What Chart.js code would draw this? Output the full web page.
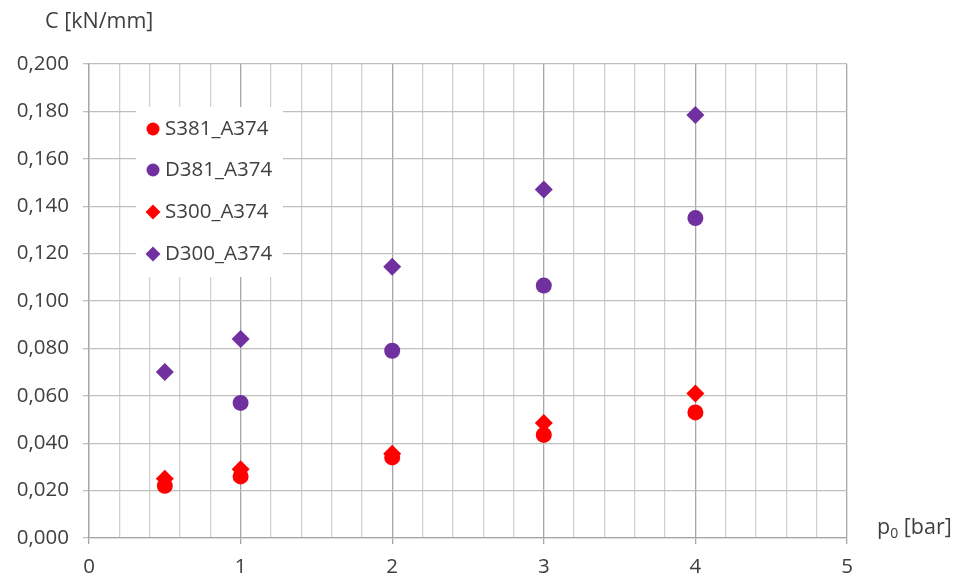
<!DOCTYPE html>
<html>
<head>
<meta charset="utf-8">
<script src="https://cdn.jsdelivr.net/npm/chart.js@4/dist/chart.umd.min.js"></script>
<style>
  html,body{margin:0;padding:0;background:#fff;}
  #wrap{position:relative;width:955px;height:578px;}
</style>
</head>
<body>
<div id="wrap"><canvas id="c" width="955" height="578"></canvas></div>
<script>
// ---- data ----
const seriesLabels = ['S381_A374', 'D381_A374', 'S300_A374', 'D300_A374'];
const x381 = [0.5, 1, 2, 3, 4];
const S381 = [0.022, 0.026, 0.034, 0.0435, 0.053];
const xD381 = [1, 2, 3, 4];
const D381 = [0.057, 0.079, 0.1065, 0.135];
const x300 = [0.5, 1, 2, 3, 4];
const S300 = [0.025, 0.029, 0.0355, 0.0485, 0.061];
const D300 = [0.070, 0.084, 0.1145, 0.147, 0.1785];
const yTitle = 'C [kN/mm]';
const xTitleMain = 'p';
const xTitleSub = '0';
const xTitleRest = ' [bar]';

const RED = '#FF0000', PURPLE = '#7030A0';
const FONT = "'Open Sans', 'DejaVu Sans', sans-serif";
const TXT = '#404040';

function pts(xs, ys){ return xs.map((x,i)=>({x:x, y:ys[i]})); }
const isInt = v => Math.abs(v - Math.round(v)) < 1e-6;

const titlesPlugin = {
  id:'titles',
  afterDraw(chart){
    const ctx = chart.ctx;
    ctx.save();
    ctx.fillStyle = TXT;
    ctx.textBaseline = 'middle';
    ctx.textAlign = 'left';
    ctx.font = "21.5px " + FONT;
    ctx.fillText(yTitle, 45, 22);
    // x title with subscript
    let x = 877, y = 528;
    ctx.fillText(xTitleMain, x, y);
    x += ctx.measureText(xTitleMain).width;
    ctx.font = "14px " + FONT;
    ctx.fillText(xTitleSub, x, y + 6);
    x += ctx.measureText(xTitleSub).width;
    ctx.font = "21.5px " + FONT;
    ctx.fillText(xTitleRest, x, y);
    ctx.restore();
  }
};

const legendPlugin = {
  id:'boxLegend',
  afterDraw(chart){
    const ctx = chart.ctx;
    ctx.save();
    ctx.fillStyle = '#fff';
    ctx.fillRect(136, 107, 147, 170);
    const ys = [129, 170, 212, 254];
    chart.data.datasets.forEach((ds, i) => {
      const r = ds.pointStyle === 'circle' ? 6.5 : 7.5;
      ctx.fillStyle = ds.backgroundColor;
      ctx.strokeStyle = ds.backgroundColor;
      ctx.lineWidth = 0;
      Chart.helpers.drawPoint(ctx, {pointStyle: ds.pointStyle, radius: r, borderWidth: 0, rotation: 0}, 153, ys[i]);
      ctx.fillStyle = TXT;
      ctx.font = "20.5px " + FONT;
      ctx.textBaseline = 'middle';
      ctx.textAlign = 'left';
      ctx.fillText(ds.label, 165, ys[i]);
    });
    ctx.restore();
  }
};

new Chart(document.getElementById('c'), {
  type: 'scatter',
  data: {
    datasets: [
      {label: seriesLabels[0], data: pts(x381, S381), pointStyle:'circle', pointRadius:8, backgroundColor:RED, borderColor:RED, borderWidth:0},
      {label: seriesLabels[1], data: pts(xD381, D381), pointStyle:'circle', pointRadius:8, backgroundColor:PURPLE, borderColor:PURPLE, borderWidth:0},
      {label: seriesLabels[2], data: pts(x300, S300), pointStyle:'rectRot', pointRadius:9, backgroundColor:RED, borderColor:RED, borderWidth:0},
      {label: seriesLabels[3], data: pts(x300, D300), pointStyle:'rectRot', pointRadius:9, backgroundColor:PURPLE, borderColor:PURPLE, borderWidth:0}
    ]
  },
  options: {
    responsive:false,
    animation:false,
    events:[],
    layout:{padding:{left:0, right:108, top:64, bottom:0}},
    plugins:{legend:{display:false}, tooltip:{enabled:false}},
    scales:{
      x:{
        type:'linear', min:0, max:5,
        ticks:{stepSize:0.2, autoSkip:false, maxRotation:0, color:TXT, font:{family:FONT, size:20.5}, padding:11,
          callback:(v)=> isInt(v) ? String(Math.round(v)) : ''},
        grid:{color:(c)=> isInt(c.tick.value) ? '#a6a6a6' : '#d0d0d0', lineWidth:1.3, tickLength:6,
          tickColor:(c)=> isInt(c.tick.value) ? '#a6a6a6' : 'rgba(0,0,0,0)'},
        border:{color:'#a6a6a6', width:1.3},
        afterFit(s){ s.height = 40; }
      },
      y:{
        type:'linear', min:0, max:0.2,
        ticks:{stepSize:0.02, autoSkip:false, color:TXT, font:{family:FONT, size:20.5}, padding:14,
          callback:(v)=> v.toFixed(3).replace('.', ',')},
        grid:{color:'#bfbfbf', lineWidth:1.3, tickLength:6, tickColor:'#bfbfbf'},
        border:{color:'#a6a6a6', width:1.3},
        afterFit(s){ s.width = 89; }
      }
    }
  },
  plugins:[legendPlugin, titlesPlugin]
});
</script>
</body>
</html>
